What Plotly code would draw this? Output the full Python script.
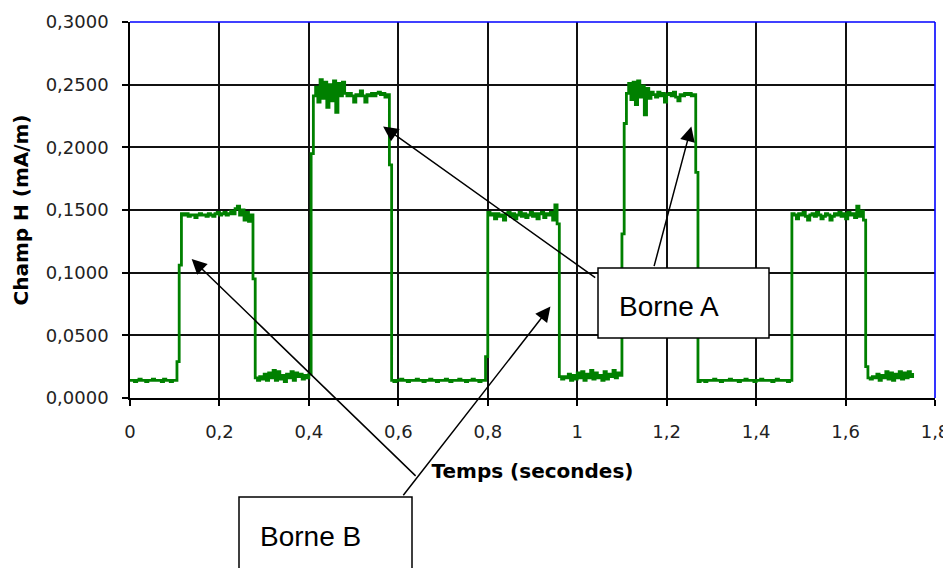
import plotly.graph_objects as go

# pas d'echantillonnage (s)
pas = 0.005

# paliers du signal : (instant de debut, valeurs en mA/m)
bas_1 = (0.000, [0.014, 0.014, 0.013, 0.014, 0.015, 0.014, 0.014, 0.013, 0.014, 0.014,
                 0.015, 0.014, 0.014, 0.014, 0.013, 0.015, 0.014, 0.014, 0.013, 0.014,
                 0.014])
haut_1 = (0.105, [0.029, 0.106, 0.147, 0.146, 0.147, 0.145, 0.146, 0.146, 0.144, 0.146,
                  0.147, 0.146, 0.146, 0.145, 0.147, 0.146, 0.145, 0.147, 0.148, 0.146,
                  0.147, 0.148, 0.146, 0.147, 0.149, 0.147, 0.151, 0.153, 0.146, 0.150,
                  0.142, 0.148, 0.141, 0.146, 0.095])
bas_2 = (0.280, [0.016, 0.014, 0.017, 0.015, 0.019, 0.014, 0.020, 0.016, 0.022, 0.014,
                 0.021, 0.015, 0.018, 0.013, 0.019, 0.016, 0.021, 0.014, 0.020, 0.017,
                 0.019, 0.015, 0.018, 0.016, 0.019])
haut_2 = (0.405, [0.195, 0.241, 0.248, 0.236, 0.254, 0.239, 0.252, 0.232, 0.250, 0.237,
                  0.253, 0.228, 0.251, 0.241, 0.252, 0.243, 0.241, 0.243, 0.241, 0.236,
                  0.242, 0.241, 0.245, 0.241, 0.236, 0.242, 0.241, 0.243, 0.241, 0.243,
                  0.244, 0.242, 0.243, 0.240, 0.242, 0.186])
bas_3 = (0.585, [0.014, 0.013, 0.014, 0.014, 0.015, 0.014, 0.014, 0.013, 0.014, 0.014,
                 0.014, 0.015, 0.014, 0.014, 0.013, 0.014, 0.014, 0.015, 0.014, 0.014,
                 0.013, 0.014, 0.014, 0.014, 0.015, 0.014, 0.013, 0.014, 0.014, 0.014,
                 0.015, 0.014, 0.014, 0.013, 0.014, 0.014, 0.015, 0.014, 0.014, 0.013,
                 0.014, 0.014, 0.033])
haut_3 = (0.800, [0.148, 0.146, 0.147, 0.143, 0.147, 0.145, 0.146, 0.142, 0.147, 0.148,
                  0.145, 0.147, 0.143, 0.146, 0.148, 0.145, 0.147, 0.144, 0.146, 0.148,
                  0.145, 0.147, 0.143, 0.147, 0.148, 0.144, 0.147, 0.146, 0.148, 0.142,
                  0.154, 0.139])
bas_4 = (0.960, [0.017, 0.015, 0.017, 0.016, 0.019, 0.014, 0.018, 0.015, 0.020, 0.016,
                 0.021, 0.014, 0.019, 0.016, 0.022, 0.015, 0.020, 0.016, 0.018, 0.014,
                 0.021, 0.015, 0.019, 0.017, 0.022, 0.016, 0.020, 0.018])
haut_4 = (1.100, [0.131, 0.219, 0.243, 0.251, 0.238, 0.252, 0.234, 0.253, 0.240, 0.249,
                  0.226, 0.247, 0.239, 0.244, 0.242, 0.240, 0.244, 0.241, 0.243, 0.236,
                  0.242, 0.243, 0.241, 0.244, 0.240, 0.237, 0.242, 0.241, 0.243, 0.242,
                  0.243, 0.241, 0.242, 0.180])
bas_5 = (1.270, [0.013, 0.014, 0.014, 0.013, 0.014, 0.014, 0.014, 0.015, 0.014, 0.014,
                 0.013, 0.014, 0.014, 0.014, 0.015, 0.014, 0.014, 0.014, 0.013, 0.014,
                 0.014, 0.015, 0.014, 0.014, 0.014, 0.013, 0.014, 0.014, 0.015, 0.014,
                 0.014, 0.014, 0.014, 0.013, 0.014, 0.015, 0.014, 0.014, 0.014, 0.014,
                 0.013, 0.014])
haut_5 = (1.480, [0.147, 0.146, 0.143, 0.147, 0.146, 0.148, 0.145, 0.142, 0.146, 0.147,
                  0.145, 0.148, 0.146, 0.143, 0.145, 0.147, 0.146, 0.142, 0.145, 0.147,
                  0.146, 0.148, 0.145, 0.147, 0.143, 0.148, 0.146, 0.147, 0.144, 0.153,
                  0.145, 0.149, 0.142, 0.025])
bas_6 = (1.650, [0.016, 0.015, 0.017, 0.016, 0.019, 0.014, 0.018, 0.016, 0.021, 0.015,
                 0.020, 0.014, 0.019, 0.016, 0.021, 0.015, 0.020, 0.016, 0.021, 0.017,
                 0.020])

paliers = [bas_1, haut_1, bas_2, haut_2, bas_3, haut_3, bas_4, haut_4, bas_5, haut_5, bas_6]

temps = []
champ_h = []
for debut, valeurs in paliers:
    for k, v in enumerate(valeurs):
        temps.append(round(debut + k * pas, 4))
        champ_h.append(v)

# fleches : (temps pointe, valeur pointe, temps queue, valeur queue)
fleches = [
    (0.566, 0.2167, 1.0436, 0.0952),
    (1.2552, 0.2167, 1.171, 0.104),
    (0.1379, 0.1109, 0.642, -0.0633),
    (0.9401, 0.0730, 0.6085, -0.0788),
]

# la page ajoute une marge de 8 px autour de la figure
W, H = 943, 560
ML, MR, MT, MB = 122, 16, 14, 170

# zone de trace en pixels de la page : x 130..935, y 22..398
def px(x):
    return (x - 130) / 805


def py(y):
    return (398 - y) / 376


fig = go.Figure()
fig.add_trace(go.Scatter(
    x=temps, y=champ_h, mode="lines",
    line=dict(color="#008000", width=2.8, shape="hv"),
    showlegend=False))

axis_common = dict(
    showgrid=True, gridcolor="#111", gridwidth=1.6,
    showline=True, linecolor="black", linewidth=1.5,
    ticks="outside", ticklen=6, tickcolor="black", tickwidth=1.5,
    zeroline=False, automargin=False,
    tickfont=dict(family="DejaVu Sans", size=18, color="#222"),
)

fig.update_layout(
    width=W, height=H,
    margin=dict(l=ML, r=MR, t=MT, b=MB),
    paper_bgcolor="white", plot_bgcolor="white",
    separators=", ",
    xaxis=dict(range=[0, 1.8], dtick=0.2, tick0=0, ticklabelstandoff=11,
               title=dict(text="<b>Temps (secondes)</b>", standoff=23,
                          font=dict(family="DejaVu Sans", size=20, color="black")),
               **axis_common),
    yaxis=dict(range=[0, 0.3], dtick=0.05, tick0=0, tickformat=".4f",
               ticklabelstandoff=10,
               title=dict(text="<b>Champ H (mA/m)</b>", standoff=12,
                          font=dict(family="DejaVu Sans", size=20, color="black")),
               **axis_common),
)

# bordure haute et droite en bleu
fig.add_shape(type="line", xref="paper", yref="paper", x0=0, x1=1, y0=1, y1=1,
              line=dict(color="#0000ff", width=1.6))
fig.add_shape(type="line", xref="paper", yref="paper", x0=1, x1=1, y0=0, y1=1,
              line=dict(color="#0000ff", width=1.6))

# cadres des etiquettes
fig.add_shape(type="rect", xref="paper", yref="paper",
              x0=px(598), x1=px(769), y0=py(338), y1=py(268),
              line=dict(color="black", width=1.5), fillcolor="white", layer="above")
fig.add_shape(type="rect", xref="paper", yref="paper",
              x0=px(239), x1=px(412), y0=py(590), y1=py(497),
              line=dict(color="black", width=1.5), fillcolor="white", layer="above")

fig.add_annotation(text="Borne A", xref="paper", yref="paper", x=px(617), y=py(306),
                   xanchor="left", yanchor="middle", showarrow=False,
                   font=dict(family="Liberation Sans", size=28, color="black"))
fig.add_annotation(text="Borne B", xref="paper", yref="paper", x=px(258), y=py(536),
                   xanchor="left", yanchor="middle", showarrow=False,
                   font=dict(family="Liberation Sans", size=28, color="black"))

for xt, yt, xq, yq in fleches:
    fig.add_annotation(x=xt, y=yt, ax=xq, ay=yq, xref="x", yref="y", axref="x", ayref="y",
                       text="", showarrow=True, arrowhead=2, arrowsize=2,
                       arrowwidth=1.5, arrowcolor="black", standoff=0)

fig.write_html("out.html")
